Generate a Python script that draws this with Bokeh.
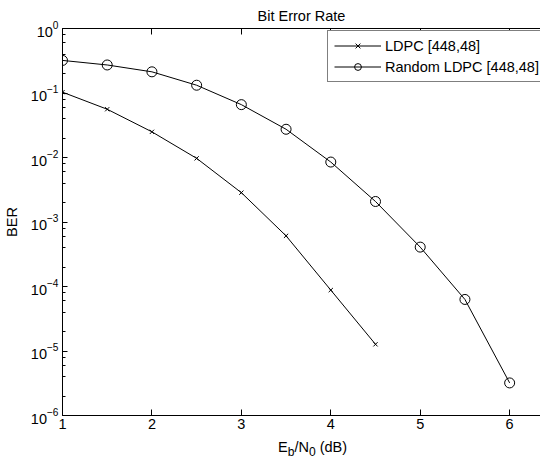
from bokeh.plotting import figure
from bokeh.models import (Range1d, LinearAxis, FixedTicker, Legend,
                          LegendItem, LogTicker, Div)
from bokeh.layouts import column
from bokeh.embed import file_html
from bokeh.resources import INLINE

# ---- data ----
ebn0_ldpc = [1.0, 1.5, 2.0, 2.5, 3.0, 3.5, 4.0, 4.5]
ber_ldpc = [0.103, 0.056, 0.025, 0.0097, 0.00285, 6.1e-4, 8.8e-5, 1.27e-5]

ebn0_rand = [1.0, 1.5, 2.0, 2.5, 3.0, 3.5, 4.0, 4.5, 5.0, 5.5, 6.0]
ber_rand = [0.32, 0.272, 0.213, 0.132, 0.066, 0.0274, 0.0085, 0.00208,
            4.08e-4, 6.3e-5, 3.2e-6]

x_ticks = [1, 2, 3, 4, 5, 6]

legend_labels = ["LDPC [448,48]", "Random LDPC [448,48]"]
title_text = "Bit Error Rate"
y_label = "BER"
x_label_html = "E<sub>b</sub>/N<sub>0</sub> (dB)"

FONT = "Liberation Sans"
FS = "14.5px"

p = figure(width=540, height=437, y_axis_type="log",
           x_range=Range1d(1, 6.345), y_range=Range1d(1e-6, 1),
           output_backend="svg", toolbar_location=None,
           min_border_left=56, min_border_right=0,
           min_border_top=24, min_border_bottom=22,
           title=title_text)

p.outline_line_color = None
p.grid.visible = False
p.background_fill_color = "white"
p.border_fill_color = "white"

p.title.align = "center"
p.title.text_font = FONT
p.title.text_font_size = FS
p.title.text_font_style = "normal"
p.title.text_color = "black"

# left (log) axis
ya = p.yaxis[0]
ya.ticker = LogTicker(desired_num_ticks=7)
ya.major_tick_in = 5
ya.major_tick_out = 0
ya.minor_tick_in = 3
ya.minor_tick_out = 0
ya.axis_line_color = "black"
ya.major_tick_line_color = "black"
ya.minor_tick_line_color = "black"
ya.major_label_text_font = FONT
ya.major_label_text_font_size = FS
ya.major_label_text_color = "black"
ya.major_label_standoff = 4
ya.axis_label = y_label
ya.axis_label_text_font = FONT
ya.axis_label_text_font_size = FS
ya.axis_label_text_font_style = "normal"
ya.axis_label_text_color = "black"
ya.axis_label_standoff = 8

# bottom axis
xa = p.xaxis[0]
xa.ticker = FixedTicker(ticks=x_ticks)
xa.major_tick_in = 6
xa.major_tick_out = 0
xa.minor_tick_line_color = None
xa.axis_line_color = "black"
xa.major_label_text_font = FONT
xa.major_label_text_font_size = FS
xa.major_label_text_color = "black"
xa.major_label_standoff = 3
xa.axis_label = None
xa.axis_label_standoff = 0

# top axis (ticks only, labels not drawn)
top = LinearAxis(ticker=FixedTicker(ticks=x_ticks), major_tick_in=6,
                 major_tick_out=0, minor_tick_line_color=None,
                 major_label_text_font_size="1px",
                 major_label_text_color=None, major_label_standoff=0,
                 axis_label=None, axis_label_standoff=0,
                 axis_line_color="black")
p.add_layout(top, "above")

# series
l1 = p.line(ebn0_ldpc, ber_ldpc, line_color="black", line_width=1)
m1 = p.scatter(ebn0_ldpc, ber_ldpc, marker="x", size=6,
               line_color="black", line_width=1)
l2 = p.line(ebn0_rand, ber_rand, line_color="black", line_width=1)
m2 = p.scatter(ebn0_rand, ber_rand, marker="circle", size=10,
               fill_color=None, line_color="black", line_width=1)

legend = Legend(items=[LegendItem(label=legend_labels[0], renderers=[l1, m1]),
                       LegendItem(label=legend_labels[1], renderers=[l2, m2])],
                location=(265, 333), padding=6, spacing=4,
                glyph_width=47, glyph_height=17, label_height=17,
                label_standoff=4, border_line_color="black",
                border_line_width=1, background_fill_color="white",
                background_fill_alpha=1.0, label_text_font=FONT,
                label_text_font_size=FS, label_text_color="black")
p.add_layout(legend, "center")

# x axis label with real subscripts
xlabel = Div(text=x_label_html, width=540, height=14, margin=(0, 0, 0, 0),
             styles={"font-family": FONT, "font-size": FS,
                     "color": "black", "line-height": "14px",
                     "padding-left": "278px", "white-space": "nowrap",
                     "position": "relative", "top": "3px"})

layout = column(p, xlabel, spacing=0)

open("out.html", "w").write(file_html(layout, INLINE))
